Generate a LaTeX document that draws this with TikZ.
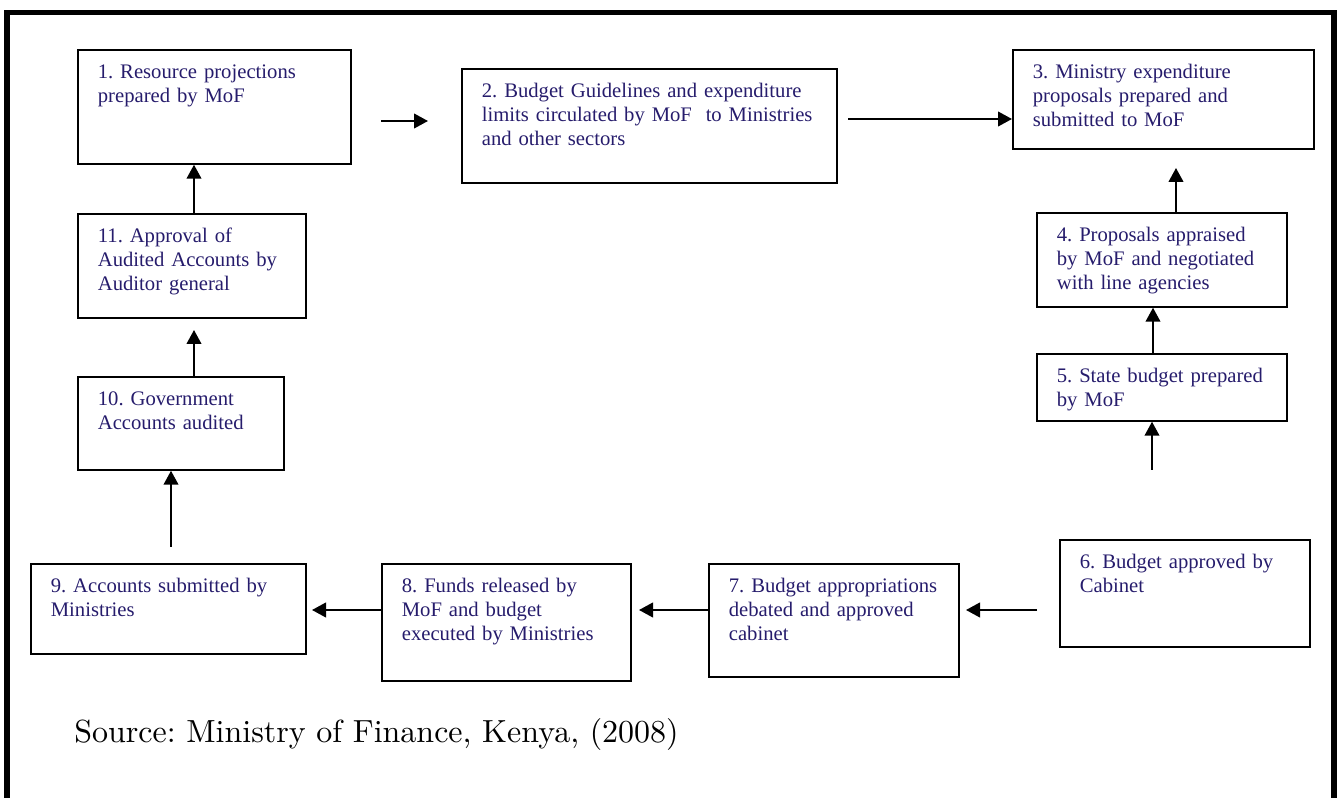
\documentclass[tikz,border=0pt]{standalone}
\usepackage{fontspec}
\newfontfamily\tnr{Liberation Serif}
\usetikzlibrary{arrows.meta}
\definecolor{txt}{RGB}{38,28,108}
\font\srcfont="[lmroman10-regular]:mapping=tex-text" at 24pt
\newcommand\boxfont{\tnr\fontsize{15.5}{18}\selectfont\frenchspacing\hyphenpenalty=10000\relax}
\newcommand\srcstyle{\srcfont\frenchspacing}
\begin{document}
\begin{tikzpicture}[x=0.75pt,y=-0.75pt,
  stepbox/.style={draw, line width=1.3pt, anchor=north west, align=left,
    inner xsep=15pt, inner ysep=0pt, text height=21.75pt,
    font=\boxfont, text=txt},
  arr/.style={line width=1.5pt, -{Triangle[length=10.5pt,width=11pt]}}]
\useasboundingbox (0,0) rectangle (1340,798);
\clip (0,0) rectangle (1340,798);
% outer frame
\draw[line width=4pt] (7,830) -- (7,12.5) -- (1334,12.5) -- (1334,830);

% boxes
\node[stepbox, text width=174.75pt, text depth=63.75pt] (b1) at (77,49)
  {1. Resource projections\\prepared by MoF};
\node[stepbox, text width=251.25pt, text depth=63.75pt] (b2) at (461,68)
  {2. Budget Guidelines and expenditure\\limits circulated by MoF\ \ to Ministries\\and other sectors};
\node[stepbox, text width=195.75pt, text depth=52.5pt] (b3) at (1012,49)
  {3. Ministry expenditure\\proposals prepared and\\submitted to MoF};
\node[stepbox, text width=157.5pt, text depth=48.75pt] (b4) at (1036,212)
  {4. Proposals appraised\\by MoF and negotiated\\with line agencies};
\node[stepbox, text width=157.5pt, text depth=28.5pt] (b5) at (1036,353)
  {5. State budget prepared\\by MoF};
\node[stepbox, text width=157.5pt, text depth=58.5pt] (b6) at (1059,539)
  {6. Budget approved by\\Cabinet};
\node[stepbox, text width=157.5pt, text depth=63pt] (b7) at (708,563)
  {7. Budget appropriations\\debated and approved\\cabinet};
\node[stepbox, text width=156.75pt, text depth=66pt] (b8) at (381,563)
  {8. Funds released by\\MoF and budget\\executed by Ministries};
\node[stepbox, text width=176.25pt, text depth=45.75pt] (b9) at (30,563)
  {9. Accounts submitted by\\Ministries};
\node[stepbox, text width=124.5pt, text depth=48pt] (b10) at (77,376)
  {10. Government\\Accounts audited};
\node[stepbox, text width=141pt, text depth=56.25pt] (b11) at (77,213)
  {11. Approval of\\Audited Accounts by\\Auditor general};

% source
\node[anchor=base west, inner sep=0pt, font=\srcstyle] (src) at (74,742)
  {Source: Ministry of Finance, Kenya, (2008)};

% connector end points
\coordinate (s12) at (381,121);
\coordinate (e12) at (428,121);
\coordinate (s23) at (848,119);
\coordinate (e43) at (1176,168);
\coordinate (x54) at (1153,0);
\coordinate (s65) at (1152,470);
\coordinate (s67) at (1037,610);
\coordinate (e67) at (966,610);
\coordinate (e78) at (639,610);
\coordinate (e89) at (312,610);
\coordinate (s910) at (171,547);
\coordinate (e1011) at (194,330);
\coordinate (x111) at (194,0);

% connectors
\draw[arr] (s12) -- (e12);
\draw[arr] (s23) -- (s23 -| b3.west);
\draw[arr] (b4.north -| e43) -- (e43);
\draw[arr] (b5.north -| x54) -- (b4.south -| x54);
\draw[arr] (s65) -- (s65 |- b5.south);
\draw[arr] (s67) -- (e67);
\draw[arr] (b7.west |- e78) -- (e78);
\draw[arr] (b8.west |- e89) -- (e89);
\draw[arr] (s910) -- (s910 |- b10.south);
\draw[arr] (b10.north -| e1011) -- (e1011);
\draw[arr] (b11.north -| x111) -- (b1.south -| x111);
\end{tikzpicture}
\end{document}
